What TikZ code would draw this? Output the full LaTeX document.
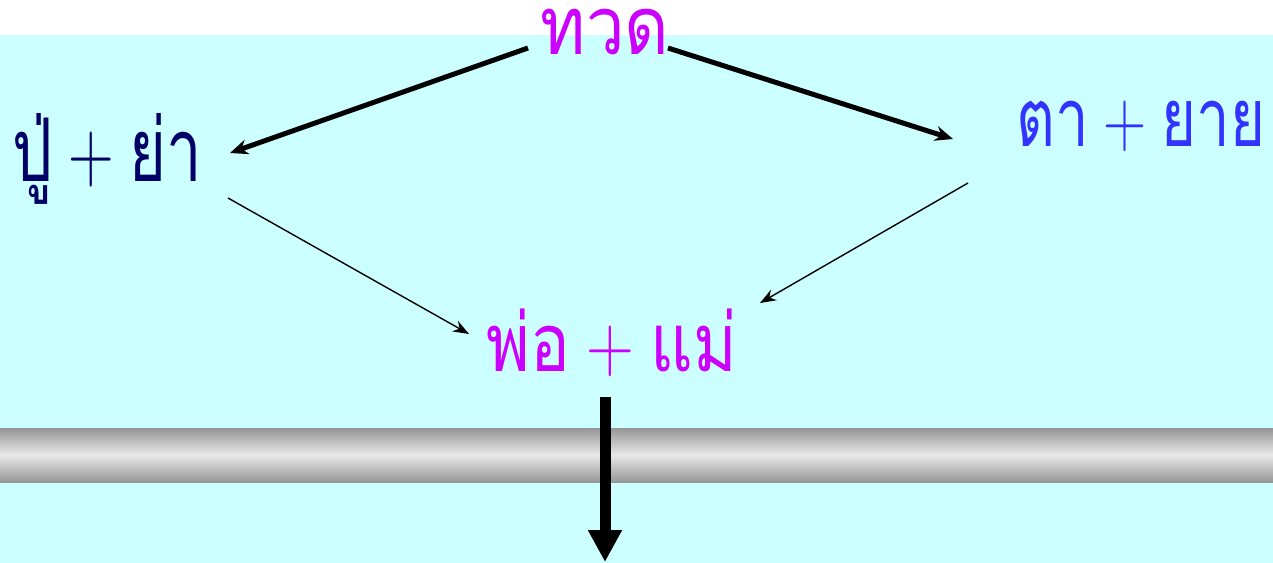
\documentclass[tikz,border=0pt]{standalone}
\usepackage{fontspec}
\usepackage{tikz}
\usetikzlibrary{arrows.meta, calc}
\newfontfamily\thaifont[Script=Thai]{Loma}
\definecolor{mybg}{RGB}{204,255,255}
\definecolor{mymagenta}{RGB}{204,0,255}
\definecolor{mynavy}{RGB}{0,0,102}
\definecolor{myblue}{RGB}{51,51,255}
\definecolor{bardark}{RGB}{150,150,150}
\definecolor{barlight}{RGB}{232,232,232}
\newcommand{\plussign}{\hspace{0.25em}{\rmfamily +}\hspace{0.25em}}
\tikzset{
  gen/.style={inner sep=0pt, anchor=base, font=\thaifont\fontsize{46}{54}\selectfont},
  thickarrow/.style={-{Stealth[length=0.36cm, width=0.3cm]}, line width=0.1cm, color=black},
  thinarrow/.style={-{Stealth[length=0.32cm, width=0.24cm]}, line width=0.8pt, color=black},
  downarrow/.style={-{Triangle[length=0.64cm, width=0.64cm]}, line width=0.22cm, color=black}
}

\begin{document}
\begin{tikzpicture}[x=0.02cm, y=-0.02cm]
  \useasboundingbox (0,0) rectangle (1273,563);
  % Background
  \fill[white] (0,0) rectangle (1273,35);
  \fill[mybg] (0,35) rectangle (1273,563);
  \shade[top color=bardark, bottom color=bardark, middle color=barlight] (0,428) rectangle (1273,482);

  % Nodes
  \node[gen, xscale=0.85, text=mymagenta] (tuad) at (605,55) {ทวด};
  \node[gen, xscale=0.72, text=mynavy, font=\thaifont\fontsize{50}{58}\selectfont] (puya) at (107,182) {ปู่\plussign ย่า};
  \node[gen, xscale=0.74, text=myblue] (taya) at (1141,147) {ตา\plussign ยาย};
  \node[gen, xscale=0.82, text=mymagenta] (pomae) at (612,372) {พ่อ\plussign แม่};
  \coordinate (child) at (605,562);

  % Connections
  \draw[thickarrow] ($(tuad.base)+(-77,-7)$) -- ($(puya.base)+(123,-29)$);
  \draw[thickarrow] ($(tuad.base)+(63,-7)$) -- ($(taya.base)+(-188,-8)$);
  \draw[thinarrow] ($(puya.base)+(121,16)$) -- ($(pomae.base)+(-143,-38)$);
  \draw[thinarrow] ($(taya.base)+(-173,36)$) -- ($(pomae.base)+(148,-69)$);
  \draw[downarrow] ($(pomae.base)+(-7,25)$) -- (child);
\end{tikzpicture}
\end{document}
